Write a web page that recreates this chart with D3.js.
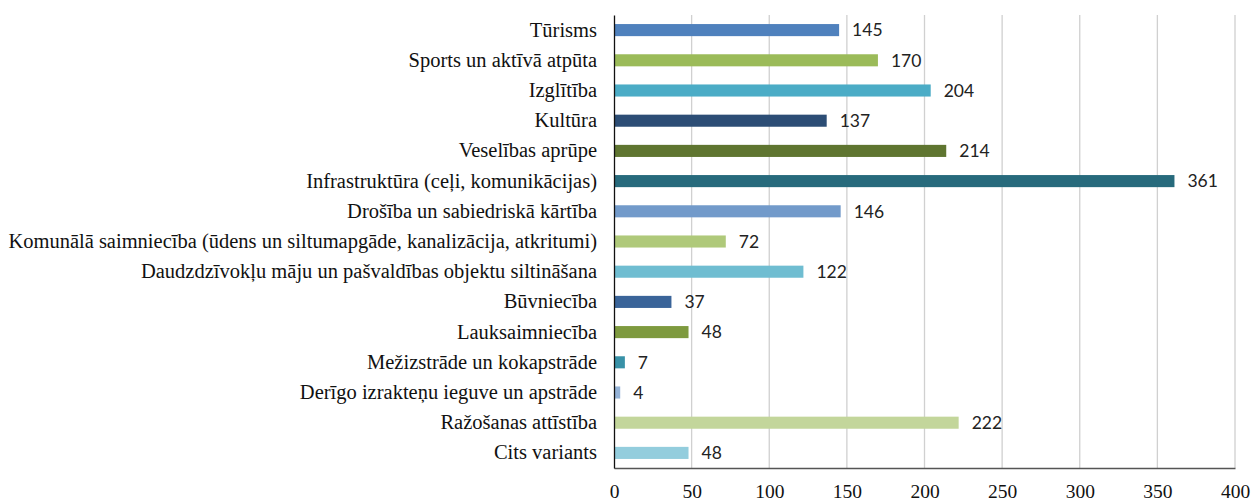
<!DOCTYPE html>
<html>
<head>
<meta charset="utf-8">
<script src="https://cdn.jsdelivr.net/npm/d3@7"></script>
<style>
  body { margin: 0; background: #fff; }
  svg { display: block; }
</style>
</head>
<body>
<div id="chart"></div>
<script>
// kategorijas (no augšas uz leju)
const categories = [
  "Tūrisms",
  "Sports un aktīvā atpūta",
  "Izglītība",
  "Kultūra",
  "Veselības aprūpe",
  "Infrastruktūra (ceļi, komunikācijas)",
  "Drošība un sabiedriskā kārtība",
  "Komunālā saimniecība (ūdens un siltumapgāde, kanalizācija, atkritumi)",
  "Daudzdzīvokļu māju un pašvaldības objektu siltināšana",
  "Būvniecība",
  "Lauksaimniecība",
  "Mežizstrāde un kokapstrāde",
  "Derīgo izrakteņu ieguve un apstrāde",
  "Ražošanas attīstība",
  "Cits variants"
];
const values = [145, 170, 204, 137, 214, 361, 146, 72, 122, 37, 48, 7, 4, 222, 48];
const barColors = [
  "#4f81bd", "#9bbb59", "#4bacc6", "#2c4d75", "#5f7530",
  "#276a7c", "#729aca", "#afc97a", "#6fbdd1", "#3a6499",
  "#7e9a3f", "#3891a7", "#95b3d7", "#c3d69b", "#93cddd"
];
const xTicks = [0, 50, 100, 150, 200, 250, 300, 350, 400];

const W = 1251, H = 504;
const margin = { top: 15, right: 16, bottom: 36, left: 614 };
const width = W - margin.left - margin.right;
const height = H - margin.top - margin.bottom;

const svg = d3.select("#chart").append("svg")
  .attr("width", W)
  .attr("height", H);

const g = svg.append("g")
  .attr("transform", `translate(${margin.left},${margin.top})`);

const x = d3.scaleLinear().domain([0, 400]).range([0, width]);
const y = d3.scaleBand().domain(categories).range([0, height]).paddingInner(0.6).paddingOuter(0.3);

// režģa līnijas
g.append("g")
  .selectAll("line")
  .data(xTicks.slice(1))
  .join("line")
  .attr("x1", d => x(d)).attr("x2", d => x(d))
  .attr("y1", 0).attr("y2", height)
  .attr("stroke", "#d0d0d0")
  .attr("stroke-width", 1.3);

// stabiņi
g.append("g")
  .selectAll("rect")
  .data(values)
  .join("rect")
  .attr("x", 0)
  .attr("y", (d, i) => y(categories[i]))
  .attr("width", d => x(d))
  .attr("height", y.bandwidth())
  .attr("fill", (d, i) => barColors[i]);

// vērtību etiķetes
g.append("g")
  .selectAll("text")
  .data(values)
  .join("text")
  .attr("x", d => x(d) + 13)
  .attr("y", (d, i) => y(categories[i]) + y.bandwidth() / 2)
  .attr("dy", "0.36em")
  .style("font-family", "Lato, 'Open Sans', sans-serif")
  .style("font-size", "17.5px")
  .attr("fill", "#222")
  .text(d => d);

// x ass
const xAxis = g.append("g")
  .attr("transform", `translate(0,${height})`)
  .call(d3.axisBottom(x).tickValues(xTicks).tickSize(0).tickPadding(16));
xAxis.select(".domain").attr("stroke", "#555").attr("stroke-width", 1.3);
xAxis.selectAll("text")
  .style("font-family", "'Liberation Serif', 'Times New Roman', serif")
  .style("font-size", "19.5px")
  .attr("fill", "#111");

// y ass
const yAxis = g.append("g")
  .call(d3.axisLeft(y).tickSize(0).tickPadding(17));
yAxis.select(".domain").attr("stroke", "#111").attr("stroke-width", 1.3);
yAxis.selectAll("text")
  .style("font-family", "'Liberation Serif', 'Times New Roman', serif")
  .style("font-size", "20.5px")
  .attr("fill", "#111");
</script>
</body>
</html>
